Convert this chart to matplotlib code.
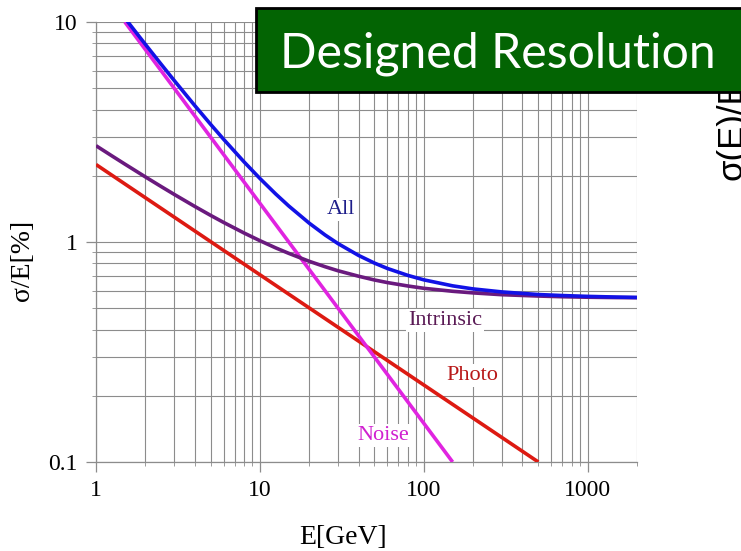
import matplotlib
matplotlib.use("Agg")
import matplotlib.pyplot as plt
from matplotlib.patches import Rectangle
from matplotlib.ticker import LogLocator, NullFormatter, FixedLocator, FixedFormatter

# ---- data ----
noise_E = [1.5, 150.0]
noise_s = [10.0, 0.1]

photo_E = [1.0, 500.0]
photo_s = [2.25, 0.1]

intr_E = [1, 1.25, 1.5, 2, 2.5, 3, 4, 5, 6, 8, 10, 12.5, 15, 20, 25, 30, 40, 50,
          60, 80, 100, 150, 200, 300, 500, 700, 1000, 1500, 2000]
intr_s = [2.740, 2.463, 2.260, 1.977, 1.786, 1.646, 1.452, 1.322, 1.228, 1.099,
          1.014, 0.940, 0.888, 0.817, 0.772, 0.740, 0.699, 0.672, 0.654, 0.631,
          0.616, 0.597, 0.587, 0.576, 0.568, 0.564, 0.561, 0.559, 0.558]

all_E = [1.5, 1.75, 2, 2.5, 3, 4, 5, 6, 8, 10, 12.5, 15, 20, 25, 30, 40, 50, 60,
         80, 100, 150, 200, 300, 500, 700, 1000, 1500, 2000]
all_s = [10.42, 8.99, 7.918, 6.420, 5.422, 4.175, 3.429, 2.933, 2.314, 1.945,
         1.652, 1.458, 1.218, 1.076, 0.983, 0.869, 0.802, 0.758, 0.705, 0.673,
         0.632, 0.612, 0.593, 0.577, 0.571, 0.566, 0.562, 0.560]

x_ticks = [1, 10, 100, 1000]
x_tick_labels = ["1", "10", "100", "1000"]
y_ticks = [0.1, 1, 10]
y_tick_labels = ["0.1", "1", "10"]

W, H = 741, 551
fig = plt.figure(figsize=(W / 100, H / 100), dpi=100)
fig.patch.set_facecolor("white")

L, R, T, B = 96, 637, 22, 462
ax = fig.add_axes([L / W, 1 - B / H, (R - L) / W, (B - T) / H])
ax.set_xscale("log")
ax.set_yscale("log")
ax.set_xlim(1, 2000)
ax.set_ylim(0.1, 10)

serif = ["Liberation Serif", "DejaVu Serif"]

ax.grid(True, which="both", color="#8c8c8c", linewidth=0.8)
ax.set_axisbelow(True)
for s in ["top", "right"]:
    ax.spines[s].set_visible(False)
for s in ["left", "bottom"]:
    ax.spines[s].set_color("#8c8c8c")
    ax.spines[s].set_linewidth(0.9)

ax.xaxis.set_major_locator(FixedLocator(x_ticks))
ax.xaxis.set_major_formatter(FixedFormatter(x_tick_labels))
ax.yaxis.set_major_locator(FixedLocator(y_ticks))
ax.yaxis.set_major_formatter(FixedFormatter(y_tick_labels))
ax.xaxis.set_minor_locator(LogLocator(base=10, subs=range(2, 10), numticks=20))
ax.yaxis.set_minor_locator(LogLocator(base=10, subs=range(2, 10), numticks=20))
ax.xaxis.set_minor_formatter(NullFormatter())
ax.yaxis.set_minor_formatter(NullFormatter())
ax.tick_params(which="major", length=7, width=0.9, color="#8c8c8c", pad=6,
               labelsize=17, labelcolor="black")
ax.tick_params(which="minor", length=3, width=0.6, color="#8c8c8c")
for lab in ax.get_xticklabels() + ax.get_yticklabels():
    lab.set_family(serif)

lw = 2.6
ax.plot(photo_E, photo_s, color="#dd1a12", lw=lw, solid_capstyle="butt", zorder=3)
ax.plot(noise_E, noise_s, color="#e024e0", lw=lw, solid_capstyle="butt", zorder=3)
ax.plot(intr_E, intr_s, color="#6a1a7e", lw=lw, solid_capstyle="butt", zorder=4)
ax.plot(all_E, all_s, color="#1212e6", lw=lw, solid_capstyle="butt", zorder=5)

def label(px, py, txt, col):
    fig.text(px / W, 1 - py / H, txt, color=col, fontsize=16, family=serif,
             ha="center", va="baseline", zorder=6,
             bbox=dict(facecolor="white", edgecolor="none", pad=1.5))

label(341, 214, "All", "#1e1e8a")
label(445, 325, "Intrinsic", "#5a1a55")
label(472, 380, "Photo", "#b81818")
label(383, 440, "Noise", "#d020d0")

fig.text(343 / W, 1 - 537 / H, "E[GeV]", fontsize=20, family=serif,
         ha="center", va="center")
fig.text(23 / W, 1 - 260 / H, "σ/E[%]", fontsize=20, family=serif,
         ha="center", va="center", rotation=90)

# partially hidden label at right edge
fig.text(741 / W, 1 - 180 / H, "σ(E)/E[%]", fontsize=25,
         family=["Liberation Sans", "DejaVu Sans"], rotation=90,
         rotation_mode="anchor", ha="left", va="baseline", zorder=7)

# green title box
box = Rectangle((256 / W, 1 - 92 / H), (760 - 256) / W, (92 - 8) / H,
                transform=fig.transFigure, facecolor="#036403",
                edgecolor="black", linewidth=2, zorder=8, clip_on=False)
fig.patches.append(box)
t = fig.text(280 / W, 1 - 68 / H, "Designed Resolution", color="white",
             fontsize=34, family=["Lato", "Open Sans", "DejaVu Sans"],
             ha="left", va="baseline", zorder=9)
fig.canvas.draw()
bb = t.get_window_extent()
t.set_fontsize(34 * 437 / bb.width)

fig.savefig("out.png", dpi=100)
